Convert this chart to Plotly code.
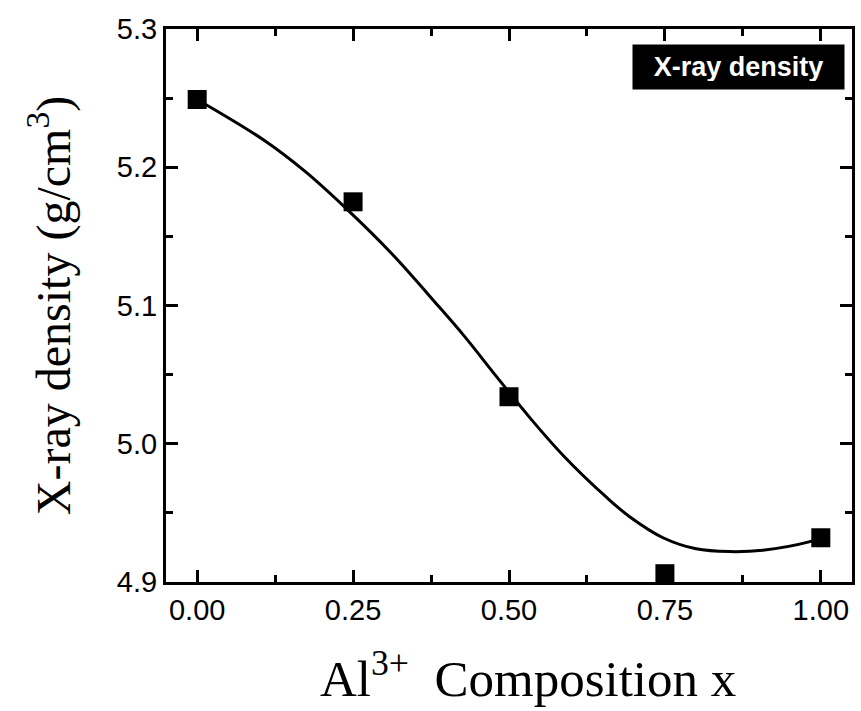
import plotly.graph_objects as go

# measured data points
comp_x = [0.00, 0.25, 0.50, 0.75, 1.00]
density = [5.249, 5.175, 5.034, 4.906, 4.932]

# fitted curve
curve_x = [0.000, 0.109, 0.173, 0.237, 0.311, 0.386, 0.428, 0.481, 0.535,
           0.588, 0.657, 0.694, 0.747, 0.800, 0.854, 0.907, 0.981, 1.000]
curve_y = [5.249, 5.219, 5.197, 5.171, 5.138, 5.100, 5.078, 5.048, 5.018,
           4.991, 4.961, 4.947, 4.932, 4.924, 4.922, 4.923, 4.929, 4.932]

x_ticks = [0.00, 0.25, 0.50, 0.75, 1.00]
x_tick_labels = ["0.00", "0.25", "0.50", "0.75", "1.00"]
y_ticks = [4.9, 5.0, 5.1, 5.2, 5.3]
y_tick_labels = ["4.9", "5.0", "5.1", "5.2", "5.3"]

fig = go.Figure()
fig.add_trace(go.Scatter(x=curve_x, y=curve_y, mode="lines",
                         line=dict(color="black", width=3, shape="spline", smoothing=1.0),
                         showlegend=False, hoverinfo="skip"))
fig.add_trace(go.Scatter(x=comp_x, y=density, mode="markers",
                         marker=dict(symbol="square", size=19, color="black",
                                     line=dict(width=0)),
                         showlegend=False))

axis_common = dict(showline=True, linecolor="black", linewidth=3, mirror="ticks",
                   ticks="inside", tickcolor="black", tickwidth=3, ticklen=12,
                   showgrid=False, zeroline=False,
                   tickfont=dict(family="Liberation Sans, Arial, sans-serif", size=29, color="black"))

fig.update_xaxes(range=[-0.05, 1.05], tickvals=x_ticks, ticktext=x_tick_labels,
                 minor=dict(ticks="inside", ticklen=7, tickwidth=3, tickcolor="black",
                            dtick=0.125, tick0=0, showgrid=False),
                 title=dict(text="&nbsp;&nbsp;&nbsp;Al<sup>3+</sup>&nbsp; Composition x",
                            font=dict(family="Liberation Serif, Times New Roman, serif", size=51, color="black"),
                            standoff=36),
                 **axis_common)
fig.update_yaxes(range=[4.9, 5.3], tickvals=y_ticks, ticktext=y_tick_labels,
                 minor=dict(ticks="inside", ticklen=7, tickwidth=3, tickcolor="black",
                            dtick=0.05, tick0=4.9, showgrid=False),
                 title=dict(text="X-ray density (g/cm<sup>3</sup>)",
                            font=dict(family="Liberation Serif, Times New Roman, serif", size=48, color="black"),
                            standoff=32),
                 **axis_common)

fig.add_annotation(text="<b>X-ray density</b>", xref="x domain", yref="y domain",
                   x=(848 - 166) / 689, y=(582 - 44) / 553, xanchor="right", yanchor="top",
                   showarrow=False, bgcolor="black", borderpad=8, width=195, height=28,
                   font=dict(family="Liberation Sans, Arial, sans-serif", size=27, color="white"))

fig.update_layout(width=861, height=711, plot_bgcolor="white", paper_bgcolor="white",
                  margin=dict(l=166, r=6, t=29, b=129), showlegend=False)

fig.write_html("out.html")
